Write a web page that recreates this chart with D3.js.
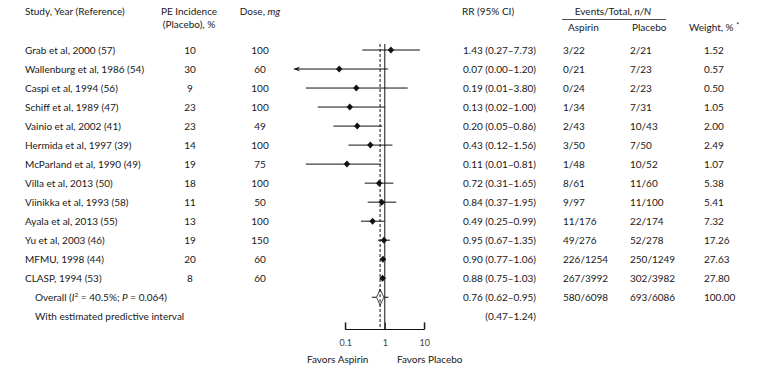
<!DOCTYPE html>
<html>
<head>
<meta charset="utf-8">
<script src="https://cdn.jsdelivr.net/npm/d3@7"></script>
<style>
  body { margin: 0; background: #fff; }
  text { font-family: Lato, "Open Sans", sans-serif; font-size: 10px; fill: #1a1718; }
</style>
</head>
<body>
<svg id="chart"></svg>
<script>
let width = 759;
let height = 375;

// table data
let studies = ["Grab et al, 2000 (57)", "Wallenburg et al, 1986 (54)", "Caspi et al, 1994 (56)",
    "Schiff et al, 1989 (47)", "Vainio et al, 2002 (41)", "Hermida et al, 1997 (39)",
    "McParland et al, 1990 (49)", "Villa et al, 2013 (50)", "Viinikka et al, 1993 (58)",
    "Ayala et al, 2013 (55)", "Yu et al, 2003 (46)", "MFMU, 1998 (44)", "CLASP, 1994 (53)"];
let peIncidence = [10, 30, 9, 23, 23, 14, 19, 18, 11, 13, 19, 20, 8];
let dose = [100, 60, 100, 100, 49, 100, 75, 100, 50, 100, 150, 60, 60];
let rr = [1.43, 0.07, 0.19, 0.13, 0.20, 0.43, 0.11, 0.72, 0.84, 0.49, 0.95, 0.90, 0.88];
let rrLow = [0.27, 0.00, 0.01, 0.02, 0.05, 0.12, 0.01, 0.31, 0.37, 0.25, 0.67, 0.77, 0.75];
let rrHigh = [7.73, 1.20, 3.80, 1.00, 0.86, 1.56, 0.81, 1.65, 1.95, 0.99, 1.35, 1.06, 1.03];
let aspirinEvents = ["3/22", "0/21", "0/24", "1/34", "2/43", "3/50", "1/48", "8/61", "9/97", "11/176", "49/276", "226/1254", "267/3992"];
let placeboEvents = ["2/21", "7/23", "2/23", "7/31", "10/43", "7/50", "10/52", "11/60", "11/100", "22/174", "52/278", "250/1249", "302/3982"];
let weights = [1.52, 0.57, 0.50, 1.05, 2.00, 2.49, 1.07, 5.38, 5.41, 7.32, 17.26, 27.63, 27.80];

// pooled estimate
let overall = { rr: 0.76, low: 0.62, high: 0.95, predLow: 0.47, predHigh: 1.24,
    aspirin: "580/6098", placebo: "693/6086", weight: "100.00" };
let axisTicks = [0.1, 1, 10];

let svg = d3.select("#chart")
    .attr("width", width)
    .attr("height", height);

let rowY = i => 50 + i * 19.02;
let x = d3.scaleLog().domain([0.1, 10]).range([345.3, 424.3]);
let xMin = 0.005;
let fmt = d3.format(".2f");

// headers
let head = svg.append("g");
head.append("text").attr("x", 25).attr("y", 15).text("Study, Year (Reference)");
head.append("text").attr("x", 189).attr("y", 15).attr("text-anchor", "middle").text("PE Incidence");
head.append("text").attr("x", 189).attr("y", 28).attr("text-anchor", "middle").text("(Placebo), %");
let dh = head.append("text").attr("x", 260).attr("y", 15).attr("text-anchor", "middle");
dh.append("tspan").text("Dose, ");
dh.append("tspan").attr("font-style", "italic").text("mg");
head.append("text").attr("x", 462).attr("y", 15).text("RR (95% CI)");
let eh = head.append("text").attr("x", 613).attr("y", 15).attr("text-anchor", "middle");
eh.append("tspan").text("Events/Total, ");
eh.append("tspan").attr("font-style", "italic").text("n/N");
head.append("line").attr("x1", 562).attr("x2", 666).attr("y1", 19.5).attr("y2", 19.5)
    .attr("stroke", "#231f20").attr("stroke-width", 0.8);
head.append("text").attr("x", 568).attr("y", 31).text("Aspirin");
head.append("text").attr("x", 632).attr("y", 31).text("Placebo");
let wh = head.append("text").attr("x", 689).attr("y", 31);
wh.append("tspan").text("Weight, % ");
wh.append("tspan").style("font-size", "7px").attr("dy", -3).text("*");

// study rows
let rows = svg.append("g").selectAll("g")
    .data(studies)
    .join("g")
    .attr("transform", (d, i) => `translate(0,${rowY(i) + 3.5})`);
rows.append("text").attr("x", 25).text(d => d);
rows.append("text").attr("x", 190).attr("text-anchor", "middle").text((d, i) => peIncidence[i]);
rows.append("text").attr("x", 260).attr("text-anchor", "middle").text((d, i) => dose[i]);
rows.append("text").attr("x", 536).attr("text-anchor", "end")
    .text((d, i) => `${fmt(rr[i])} (${fmt(rrLow[i])}–${fmt(rrHigh[i])})`);
rows.append("text").attr("x", 563).text((d, i) => aspirinEvents[i]);
rows.append("text").attr("x", 630).text((d, i) => placeboEvents[i]);
rows.append("text").attr("x", 704).text((d, i) => fmt(weights[i]));

// overall rows
let oy = rowY(13) + 3.5;
let ot = svg.append("text").attr("x", 35).attr("y", oy);
ot.append("tspan").text("Overall (");
ot.append("tspan").attr("font-style", "italic").text("I");
ot.append("tspan").style("font-size", "6.5px").attr("dy", -3.5).text("2");
ot.append("tspan").attr("dy", 3.5).text(" = 40.5%; ");
ot.append("tspan").attr("font-style", "italic").text("P");
ot.append("tspan").text(" = 0.064)");
svg.append("text").attr("x", 536).attr("y", oy).attr("text-anchor", "end")
    .text(`${fmt(overall.rr)} (${fmt(overall.low)}–${fmt(overall.high)})`);
svg.append("text").attr("x", 563).attr("y", oy).text(overall.aspirin);
svg.append("text").attr("x", 630).attr("y", oy).text(overall.placebo);
svg.append("text").attr("x", 704).attr("y", oy).text(overall.weight);
svg.append("text").attr("x", 35).attr("y", rowY(14) + 3.5).text("With estimated predictive interval");
svg.append("text").attr("x", 536).attr("y", rowY(14) + 3.5).attr("text-anchor", "end")
    .text(`(${fmt(overall.predLow)}–${fmt(overall.predHigh)})`);

// plot
let plot = svg.append("g");
let axisY = 329.5;
let topY = 44;
plot.append("line").attr("x1", x(1)).attr("x2", x(1)).attr("y1", topY).attr("y2", axisY)
    .attr("stroke", "#111").attr("stroke-width", 1);
plot.append("line").attr("x1", x(overall.rr)).attr("x2", x(overall.rr)).attr("y1", topY).attr("y2", axisY)
    .attr("stroke", "#111").attr("stroke-width", 1).attr("stroke-dasharray", "3,2");

let ci = plot.append("g").selectAll("g")
    .data(studies)
    .join("g")
    .attr("transform", (d, i) => `translate(0,${rowY(i)})`);
ci.append("line")
    .attr("x1", (d, i) => x(Math.max(rrLow[i], xMin)))
    .attr("x2", (d, i) => x(rrHigh[i]))
    .attr("stroke", "#111").attr("stroke-width", 1);
ci.filter((d, i) => rrLow[i] < xMin)
    .append("path")
    .attr("d", () => {
        let ax = x(xMin);
        return `M${ax},0 L${ax + 6},-2.5 L${ax + 4},0 L${ax + 6},2.5 Z`;
    })
    .attr("fill", "#111");
ci.append("path")
    .attr("d", (d, i) => {
        let cx = x(rr[i]);
        return `M${cx - 3.2},0 L${cx},-3.5 L${cx + 3.2},0 L${cx},3.5 Z`;
    })
    .attr("fill", "#111");

// overall diamond + predictive interval
let dy = rowY(13);
plot.append("line").attr("x1", x(overall.predLow)).attr("x2", x(overall.predHigh))
    .attr("y1", dy).attr("y2", dy).attr("stroke", "#111").attr("stroke-width", 1);
plot.append("path")
    .attr("d", `M${x(overall.low)},${dy} L${x(overall.rr)},${dy - 8} L${x(overall.high)},${dy} L${x(overall.rr)},${dy + 8} Z`)
    .attr("fill", "#fff").attr("stroke", "#333").attr("stroke-width", 0.9);
// redraw verticals over diamond interior
plot.append("line").attr("x1", x(overall.rr)).attr("x2", x(overall.rr)).attr("y1", dy - 8).attr("y2", dy + 8)
    .attr("stroke", "#111").attr("stroke-width", 1).attr("stroke-dasharray", "3,2");

// axis
let axis = d3.axisTop(x).tickValues(axisTicks).tickSize(7).tickFormat(d => d);
let ag = plot.append("g").attr("transform", `translate(0,${axisY})`).call(axis);
ag.select(".domain").attr("d", `M${x(0.1)},-7V0H${x(10)}V-7`).attr("stroke", "#111");
ag.selectAll(".tick line").attr("stroke", "#111");
ag.selectAll(".tick text").remove();
ag.selectAll(".tick").append("text").attr("y", 16).attr("text-anchor", "middle")
    .style("font-size", "9px").style("fill", "#444")
    .text(d => d);

svg.append("text").attr("x", 307).attr("y", 363).text("Favors Aspirin");
svg.append("text").attr("x", 397).attr("y", 363).text("Favors Placebo");
</script>
</body>
</html>
